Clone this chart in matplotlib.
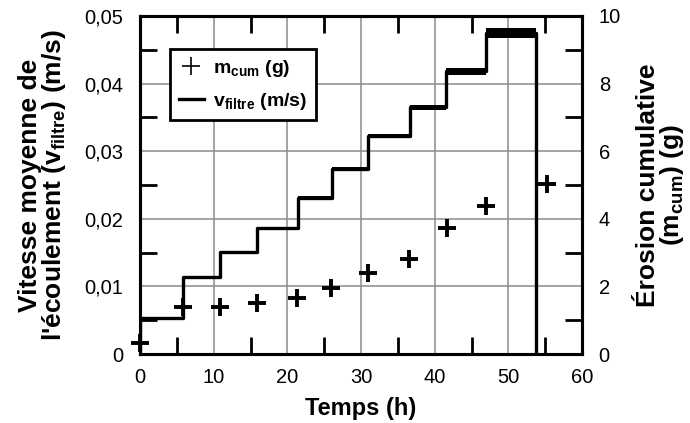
import matplotlib

matplotlib.use("Agg")

import matplotlib.pyplot as plt  # noqa: E402
from matplotlib.lines import Line2D  # noqa: E402
from matplotlib.ticker import MultipleLocator, FuncFormatter  # noqa: E402

plt.rcParams["font.family"] = ["Liberation Sans", "DejaVu Sans"]
plt.rcParams["mathtext.fontset"] = "custom"
plt.rcParams["mathtext.rm"] = "Liberation Sans"
plt.rcParams["mathtext.bf"] = "Liberation Sans:bold"

# step changes of the filter velocity (h, m/s)
step_start_h = [0, 5.8, 10.9, 15.9, 21.4, 26.1, 30.9, 36.6, 41.6, 47.0]
step_v = [0.0054, 0.0114, 0.0151, 0.0186, 0.0231, 0.0273, 0.0323, 0.0365, 0.0418, 0.0475]
step_spread = [0.0001, 0.0001, 0.0001, 0.0002, 0.0002, 0.0003, 0.0003, 0.0004, 0.0005, 0.0007]
stop_h = 53.8

# cumulative erosion (h, g)
t_mcum = [0.0, 5.8, 10.9, 15.9, 21.3, 25.9, 30.9, 36.5, 41.7, 47.0, 55.2]
mcum = [0.33, 1.40, 1.40, 1.52, 1.67, 1.96, 2.41, 2.80, 3.72, 4.38, 5.02]

fig = plt.figure(figsize=(6.9, 4.23), dpi=100)
ax = fig.add_axes((0.2029, 0.1631, 0.6406, 0.7991))
ax2 = ax.twinx()

t_line = step_start_h + [stop_h]
v_line = step_v + [0.0]
ax.fill_between(t_line, [v - s for v, s in zip(step_v, step_spread)] + [0.0],
                [v + s for v, s in zip(step_v, step_spread)] + [0.0],
                step="post", color="black", lw=0, zorder=3)
ax.plot([0] + t_line, [0] + v_line, drawstyle="steps-post", color="black", lw=2.4, zorder=3)

ax2.plot(t_mcum, mcum, ls="none", marker="+", ms=13, mew=2.8, color="black", zorder=4,
         clip_on=False)

ax.set_xlim(0, 60)
ax.set_ylim(0, 0.05)
ax2.set_ylim(0, 10)

ax.xaxis.set_major_locator(MultipleLocator(10))
ax.xaxis.set_minor_locator(MultipleLocator(5))
ax.yaxis.set_major_locator(MultipleLocator(0.01))
ax.yaxis.set_minor_locator(MultipleLocator(0.005))
ax2.yaxis.set_major_locator(MultipleLocator(2))
ax2.yaxis.set_minor_locator(MultipleLocator(1))

ax.yaxis.set_major_formatter(FuncFormatter(lambda v, p: "0" if v == 0 else f"{v:.2f}".replace(".", ",")))

ax.grid(True, which="major", color="#8c8c8c", lw=1.1)
ax.set_axisbelow(True)
for a in (ax, ax2):
    for sp in a.spines.values():
        sp.set_linewidth(2.2)
        sp.set_zorder(5)
ax.tick_params(which="major", length=0, labelsize=14.5)
ax.tick_params(axis="x", which="major", pad=10)
ax.tick_params(axis="y", which="major", pad=12)
ax.tick_params(which="minor", direction="in", length=12, width=2, top=True, bottom=True, left=True)
ax.tick_params(axis="x", which="minor", labelbottom=False)
ax2.tick_params(which="major", length=0, labelsize=14.5, pad=12)
ax2.tick_params(which="minor", direction="in", length=12, width=2)

ax.set_xlabel("Temps (h)", fontsize=17, fontweight="bold", labelpad=7)
ax.set_ylabel("Vitesse moyenne de\nl'écoulement (v$_\\mathbf{filtre}$) (m/s)",
              fontsize=19, fontweight="bold", linespacing=0.92)
ax.yaxis.set_label_coords(-0.163, 0.5)
ax2.set_ylabel("Érosion cumulative\n(m$_\\mathbf{cum}$) (g)", fontsize=19, fontweight="bold",
               linespacing=0.92)
ax2.yaxis.set_label_coords(1.122, 0.5)

handles = [
    Line2D([], [], ls="none", marker="+", ms=13, mew=1.2, color="black"),
    Line2D([], [], color="black", lw=2.4),
]
labels = ["m$_\\mathbf{cum}$ (g)", "v$_\\mathbf{filtre}$ (m/s)"]
leg = ax.legend(handles, labels, loc="upper left", bbox_to_anchor=(0.068, 0.902),
                borderaxespad=0, fancybox=False, framealpha=1, edgecolor="black",
                prop={"weight": "bold", "size": 14}, handlelength=1.3, handletextpad=0.45,
                borderpad=0.45, labelspacing=0.6)
leg.get_frame().set_linewidth(2)
leg.set_zorder(6)

fig.savefig("out.png", dpi=100)
